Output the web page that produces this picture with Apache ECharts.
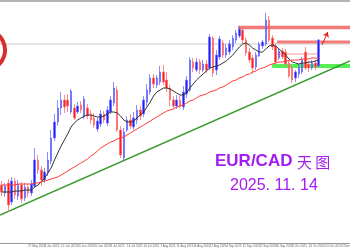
<!DOCTYPE html>
<html><head><meta charset="utf-8">
<script src="https://cdn.jsdelivr.net/npm/echarts/dist/echarts.min.js"></script>
<style>html,body{margin:0;padding:0;background:#fff;overflow:hidden}#c{width:350px;height:250px}</style>
</head><body><div id="c"></div>
<script>
// ---- data ----
const opens  = [1.5490,1.5450,1.5500,1.5405,1.5510,1.5435,1.5490,1.5425,1.5480,1.5450,
                1.5485,1.5615,1.5565,1.5515,1.5550,1.5610,1.5725,1.5805,1.5875,1.5915,
                1.5915,1.5855,1.5875,1.5855,1.5890,1.5830,1.5875,1.5845,1.5825,1.5770,
                1.5795,1.5845,1.5800,1.5855,1.5900,1.5965,1.5765,1.5625,1.5765,1.5815,
                1.5780,1.5815,1.5865,1.5845,1.5905,1.5955,1.6025,1.5990,1.6005,1.6055,
                1.6015,1.5975,1.5915,1.5885,1.5915,1.5880,1.5945,1.5965,1.6105,1.6065,
                1.6105,1.6065,1.6095,1.6075,1.6225,1.6065,1.6130,1.6200,1.6140,1.6155,
                1.6180,1.6215,1.6235,1.6265,1.6215,1.6155,1.6125,1.6080,1.6135,1.6185,
                1.6195,1.6315,1.6225,1.6185,1.6125,1.6160,1.6155,1.6100,1.6075,1.6025,
                1.6045,1.6055,1.6155,1.6095,1.6075,1.6100,1.6085];
const highs  = [1.5510,1.5500,1.5520,1.5530,1.5525,1.5515,1.5505,1.5500,1.5495,1.5515,
                1.5675,1.5640,1.5585,1.5575,1.5655,1.5765,1.5845,1.5915,1.5955,1.5940,
                1.5945,1.5970,1.5895,1.5905,1.5910,1.5935,1.5895,1.5865,1.5850,1.5825,
                1.5865,1.5860,1.5885,1.5935,1.6005,1.5985,1.5785,1.5775,1.5835,1.5845,
                1.5855,1.5890,1.5885,1.5935,1.5995,1.6045,1.6045,1.6040,1.6085,1.6090,
                1.6055,1.5990,1.5935,1.5940,1.5935,1.5985,1.6035,1.6130,1.6125,1.6125,
                1.6120,1.6115,1.6115,1.6245,1.6235,1.6165,1.6235,1.6215,1.6195,1.6215,
                1.6240,1.6265,1.6285,1.6280,1.6230,1.6175,1.6140,1.6155,1.6205,1.6215,
                1.6350,1.6335,1.6240,1.6200,1.6175,1.6175,1.6170,1.6115,1.6090,1.6065,
                1.6095,1.6130,1.6180,1.6110,1.6115,1.6115,1.6220];
const lows   = [1.5435,1.5430,1.5355,1.5390,1.5420,1.5415,1.5400,1.5410,1.5430,1.5435,
                1.5475,1.5545,1.5485,1.5500,1.5535,1.5595,1.5710,1.5785,1.5840,1.5850,
                1.5855,1.5845,1.5815,1.5845,1.5850,1.5820,1.5820,1.5795,1.5775,1.5755,
                1.5780,1.5800,1.5785,1.5845,1.5885,1.5755,1.5625,1.5610,1.5755,1.5770,
                1.5765,1.5795,1.5815,1.5830,1.5885,1.5940,1.5975,1.5975,1.5990,1.5990,
                1.5955,1.5885,1.5870,1.5870,1.5875,1.5865,1.5925,1.5955,1.6055,1.6055,
                1.6045,1.6055,1.6050,1.6065,1.6030,1.6040,1.6115,1.6125,1.6125,1.6140,
                1.6165,1.6200,1.6225,1.6200,1.6135,1.6100,1.6045,1.6065,1.6130,1.6170,
                1.6185,1.6205,1.6165,1.6095,1.6115,1.6120,1.6085,1.6025,1.6000,1.6005,
                1.6025,1.6045,1.6065,1.6055,1.6065,1.6065,1.6080];
const closes = [1.5455,1.5485,1.5390,1.5510,1.5440,1.5495,1.5420,1.5480,1.5450,1.5495,
                1.5615,1.5565,1.5515,1.5555,1.5615,1.5725,1.5805,1.5875,1.5915,1.5880,
                1.5885,1.5960,1.5825,1.5885,1.5865,1.5920,1.5835,1.5815,1.5790,1.5810,
                1.5845,1.5815,1.5865,1.5915,1.5975,1.5765,1.5640,1.5755,1.5815,1.5785,
                1.5825,1.5865,1.5835,1.5915,1.5965,1.6025,1.5995,1.6025,1.6055,1.6005,
                1.5975,1.5915,1.5885,1.5915,1.5885,1.5955,1.6015,1.6115,1.6075,1.6105,
                1.6065,1.6095,1.6065,1.6230,1.6050,1.6140,1.6220,1.6140,1.6175,1.6195,
                1.6225,1.6250,1.6270,1.6215,1.6150,1.6115,1.6075,1.6140,1.6195,1.6205,
                1.6315,1.6215,1.6180,1.6105,1.6160,1.6130,1.6095,1.6035,1.6015,1.6055,
                1.6080,1.6115,1.6075,1.6075,1.6100,1.6080,1.6215];
const maFast = [1.5455,1.5455,1.5455,1.5455,1.5460,1.5460,1.5460,1.5465,1.5465,1.5465,
                1.5480,1.5490,1.5505,1.5525,1.5550,1.5575,1.5615,1.5650,1.5685,1.5715,
                1.5745,1.5780,1.5800,1.5815,1.5825,1.5835,1.5840,1.5840,1.5835,1.5830,
                1.5830,1.5835,1.5845,1.5855,1.5855,1.5850,1.5835,1.5815,1.5805,1.5805,
                1.5810,1.5825,1.5840,1.5855,1.5880,1.5905,1.5935,1.5955,1.5965,1.5975,
                1.5975,1.5970,1.5960,1.5950,1.5940,1.5940,1.5950,1.5975,1.5995,1.6015,
                1.6030,1.6045,1.6060,1.6075,1.6080,1.6085,1.6090,1.6100,1.6110,1.6125,
                1.6140,1.6160,1.6180,1.6195,1.6200,1.6190,1.6175,1.6165,1.6155,1.6155,
                1.6170,1.6185,1.6190,1.6185,1.6170,1.6155,1.6140,1.6120,1.6105,1.6100,
                1.6095,1.6100,1.6100,1.6105,1.6105,1.6110,1.6115];
const maSlow = [1.5490,1.5490,1.5490,1.5490,1.5490,1.5495,1.5495,1.5495,1.5495,1.5495,
                1.5500,1.5500,1.5505,1.5510,1.5515,1.5520,1.5525,1.5530,1.5540,1.5550,
                1.5560,1.5570,1.5580,1.5590,1.5600,1.5610,1.5620,1.5635,1.5645,1.5660,
                1.5675,1.5685,1.5695,1.5705,1.5710,1.5720,1.5725,1.5730,1.5740,1.5750,
                1.5760,1.5770,1.5780,1.5790,1.5800,1.5810,1.5820,1.5830,1.5840,1.5850,
                1.5860,1.5865,1.5870,1.5880,1.5885,1.5890,1.5900,1.5910,1.5915,1.5925,
                1.5935,1.5940,1.5945,1.5955,1.5960,1.5965,1.5975,1.5980,1.5990,1.6000,
                1.6010,1.6015,1.6025,1.6030,1.6040,1.6045,1.6055,1.6060,1.6070,1.6075,
                1.6080,1.6090,1.6095,1.6100,1.6105,1.6105,1.6110,1.6110,1.6115,1.6115,
                1.6115,1.6120,1.6120,1.6120,1.6125,1.6125,1.6125];
const tickLabels = ['19 May 2025','27 May 2025','4 Jun 2025','12 Jun 2025','20 Jun 2025','30 Jun 2025',
                    '8 Jul 2025','16 Jul 2025','24 Jul 2025','1 Aug 2025','11 Aug 2025','19 Aug 2025',
                    '27 Aug 2025','4 Sep 2025','12 Sep 2025','22 Sep 2025','30 Sep 2025','8 Oct 2025',
                    '16 Oct 2025','24 Oct 2025','3 Nov 2025','11 Nov 2025'];
// support / resistance drawings: [startSlot, endSlot, price]
const trendLine   = [[0, 1.5340], [106, 1.6110]];
const resistTop   = [72.1, 106, 1.6278];
const resistMid   = [83.9, 106, 1.6205];
const thinLevel   = [83.9, 96, 1.6145];
const supportLvl  = [82.4, 106, 1.6085];
const greyLevel   = [0, 106, 1.6195];
const arrowPts    = [[97.5, 1.6190], [99.3, 1.6255]];

const SLOTS = 106;
const cats = Array.from({length: SLOTS}, (_, i) => i);
const candles = opens.map((o, i) => [o, closes[i], lows[i], highs[i]]);
const seg = (a) => [[a[0], a[2]], [a[1], a[2]]];

const chart = echarts.init(document.getElementById('c'), null, {renderer: 'canvas'});
chart.setOption({
  animation: false,
  backgroundColor: '#ffffff',
  grid: {left: 0, right: 0, top: 3, bottom: 7, containLabel: false, outerBoundsMode: 'none'},
  xAxis: [
    {type: 'category', data: cats, boundaryGap: true,
     axisLine: {lineStyle: {color: '#9a9a9a', width: 1}},
     axisTick: {show: false},
     axisLabel: {interval: (i) => i >= 3 && (i - 3) % 5 === 0, fontSize: 3, color: '#666', margin: 2, align: 'left',
       hideOverlap: false,
       formatter: (v, i) => tickLabels[(Number(v) - 3) / 5] || ''},
     splitLine: {show: false}},
    {type: 'value', min: 0, max: SLOTS, show: false, splitLine: {show: false}}
  ],
  yAxis: {type: 'value', min: 1.52, max: 1.64, show: false, splitLine: {show: false}},
  series: [
    {type: 'line', xAxisIndex: 1, data: seg(greyLevel), symbol: 'none', lineStyle: {color: '#c8c8c8', width: 1}, z: 1},
    {type: 'line', xAxisIndex: 1, data: seg(resistTop), symbol: 'none', lineStyle: {color: '#f47a7a', width: 3.5}, z: 2},
    {type: 'line', xAxisIndex: 1, data: seg(resistMid), symbol: 'none', lineStyle: {color: '#f47a7a', width: 3}, z: 2},
    {type: 'line', xAxisIndex: 1, data: seg(thinLevel), symbol: 'none', lineStyle: {color: '#f59a9a', width: 1}, z: 2},
    {type: 'line', xAxisIndex: 1, data: seg(supportLvl), symbol: 'none', lineStyle: {color: '#55ee55', width: 4}, z: 2},
    {type: 'line', xAxisIndex: 1, data: trendLine, symbol: 'none', lineStyle: {color: '#3a9a2e', width: 1.5}, z: 3},
    {type: 'candlestick', xAxisIndex: 0, data: candles, barWidth: 2,
     itemStyle: {color: '#1e1eff', color0: '#ff1e1e', borderColor: '#7070ff', borderColor0: '#ff7070', borderWidth: 0.8}, z: 4},
    {type: 'line', xAxisIndex: 0, data: maFast, symbol: 'none', lineStyle: {color: '#333333', width: 1}, z: 5},
    {type: 'line', xAxisIndex: 0, data: maSlow, symbol: 'none', lineStyle: {color: '#ff3a3a', width: 1}, z: 5},
    {type: 'line', xAxisIndex: 1, data: [], symbol: 'none',
     markLine: {silent: true, symbol: ['none', 'arrow'], symbolSize: 5, label: {show: false},
       lineStyle: {color: '#e02020', width: 1, type: 'solid'},
       data: [[{coord: arrowPts[0]}, {coord: arrowPts[1]}]]}, z: 6}
  ],
  graphic: [
    {type: 'rect', shape: {x: 0, y: 0, width: 350, height: 2}, style: {fill: '#b4b4b4'}, z: 10},
    {type: 'arc', shape: {cx: -15, cy: 50, r: 20, startAngle: -1.25, endAngle: 1.25}, style: {stroke: '#d6302a', lineWidth: 4, fill: null}, z: 10},
    {type: 'text', left: 215, top: 153, style: {text: 'EUR/CAD', font: 'bold 17px "Liberation Sans", Arial', fill: '#a41cf0'}, z: 10},
    {type: 'text', left: 297, top: 155, style: {text: '天 图', font: '15px "Noto Sans CJK SC"', fill: '#a41cf0'}, z: 10},
    {type: 'text', left: 230, top: 178, style: {text: '2025. 11. 14', font: '16px "Liberation Sans", Arial', fill: '#a41cf0'}, z: 10}
  ]
});
</script></body></html>
